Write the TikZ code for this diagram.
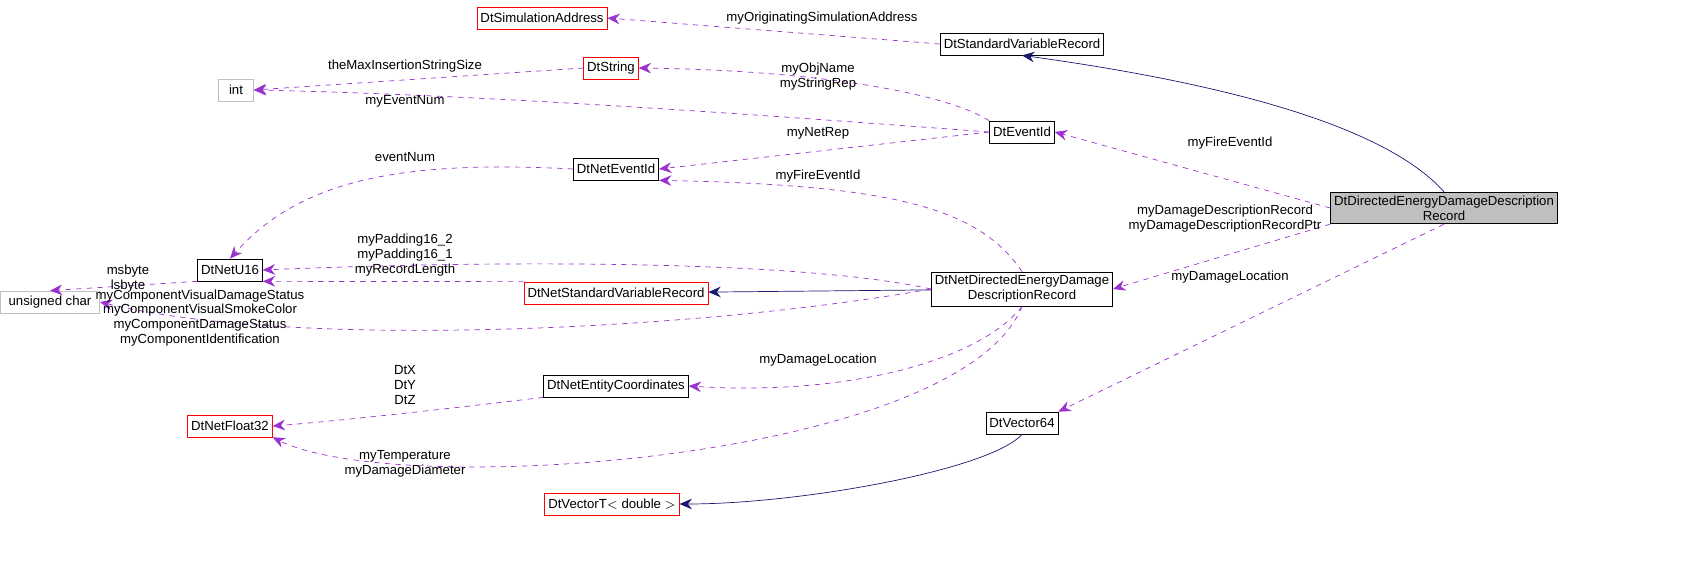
\documentclass[tikz,border=0pt]{standalone}
\usepackage{fontspec}
\setmainfont{Liberation Sans}
\usetikzlibrary{arrows.meta}
\definecolor{edgepurple}{HTML}{9A32CD}
\definecolor{edgenavy}{HTML}{191970}
\definecolor{boxgray}{HTML}{BFBFBF}
\tikzset{
  cls/.style={draw=black, fill=white, inner sep=2pt, minimum height=0.44cm, font=\fontsize{7.5}{8.5}\selectfont, align=center},
  clsred/.style={cls, draw=red},
  clsgray/.style={cls, draw=boxgray},
  clsmain/.style={cls, fill=boxgray},
  uses/.style={edgepurple, dashed, -{Stealth[length=7pt,width=6pt]}},
  inherits/.style={edgenavy, -{Stealth[length=7pt,width=6pt]}},
  lbl/.style={font=\fontsize{7.5}{8.5}\selectfont, align=center, inner sep=1pt}
}
\begin{document}
\begin{tikzpicture}[x=0.02cm, y=-0.02cm]
    \useasboundingbox (0,0) rectangle (1699,567);

    % Classes
    \node[clsred] (simaddr) at (542,18) {DtSimulationAddress};
    \node[cls] (stdvar) at (1022,44) {DtStandardVariableRecord};
    \node[clsred] (string) at (611,68) {DtString};
    \node[clsgray, minimum width=0.7cm] (int) at (236,90) {int};
    \node[cls] (eventid) at (1022,132) {DtEventId};
    \node[cls] (neteventid) at (616,169) {DtNetEventId};
    \node[clsmain] (main) at (1444,208) {DtDirectedEnergyDamageDescription\\Record};
    \node[cls] (netu16) at (230,270) {DtNetU16};
    \node[clsgray, minimum width=1.98cm] (uchar) at (50,302) {unsigned char};
    \node[clsred] (netstdvar) at (616,293) {DtNetStandardVariableRecord};
    \node[cls] (netmain) at (1022,289) {DtNetDirectedEnergyDamage\\DescriptionRecord};
    \node[cls] (netcoords) at (616,386) {DtNetEntityCoordinates};
    \node[clsred] (float32) at (230,426) {DtNetFloat32};
    \node[cls] (vec64) at (1022,423) {DtVector64};
    \node[clsred] (vect) at (612,504) {DtVectorT$<$ double $>$};

    % Inheritance
    \draw[inherits] (main.north) .. controls (1380,120) and (1200,80) .. (stdvar.south);
    \draw[inherits] (netmain) -- (netstdvar);
    \draw[inherits] (vec64.south) .. controls (990,470) and (800,504) .. (vect.east);

    % Usage
    \draw[uses] (stdvar.west) -- (simaddr.east);
    \draw[uses] (string.west) -- (int.east);
    \draw[uses] (eventid.west) .. controls (800,118) and (500,95) .. (int.east);
    \draw[uses] (eventid.north west) .. controls (940,90) and (800,70) .. (string.east);
    \draw[uses] (eventid.west) -- (neteventid.east);
    \draw[uses] (neteventid.west) .. controls (400,160) and (300,180) .. (netu16.north);
    \draw[uses] (main.west) -- (eventid.east);
    \draw[uses] (main.south west) -- (netmain.east);
    \draw[uses] (main.south) -- (vec64.north east);
    \draw[uses] (netmain.north) .. controls (980,210) and (900,185) .. (neteventid.south east);
    \draw[uses] (netmain.west) .. controls (800,260) and (500,260) .. (netu16.east);
    \draw[uses] (netstdvar.north west) -- (netu16.south east);
    \draw[uses] (netmain.west) .. controls (700,330) and (300,350) .. (uchar.east);
    \draw[uses] (netmain.south) .. controls (980,360) and (850,396) .. (netcoords.east);
    \draw[uses] (netcoords.south west) .. controls (480,405) and (350,420) .. (float32.east);
    \draw[uses] (netmain.south) .. controls (960,460) and (400,500) .. (float32.south east);
    \draw[uses] (netu16.south west) -- (uchar.north);

    % Labels
    \node[lbl] (l1) at (822,18) {myOriginatingSimulationAddress};
    \node[lbl] (l2) at (405,66) {theMaxInsertionStringSize};
    \node[lbl] (l3) at (405,101) {myEventNum};
    \node[lbl] (l4) at (818,77) {myObjName\\myStringRep};
    \node[lbl] (l5) at (818,133) {myNetRep};
    \node[lbl] (l6) at (405,157) {eventNum};
    \node[lbl] (l7) at (1230,143) {myFireEventId};
    \node[lbl] (l8) at (818,176) {myFireEventId};
    \node[lbl] (l9) at (1225,219) {myDamageDescriptionRecord\\myDamageDescriptionRecordPtr};
    \node[lbl] (l10) at (1230,277) {myDamageLocation};
    \node[lbl] (l11) at (405,248) {myPadding16\_2\\myPadding16\_1};
    \node[lbl] (l12) at (405,270) {myRecordLength};
    \node[lbl] (l13) at (200,318) {myComponentVisualDamageStatus\\myComponentVisualSmokeColor\\myComponentDamageStatus\\myComponentIdentification};
    \node[lbl] (l14) at (128,279) {msbyte\\lsbyte};
    \node[lbl] (l15) at (818,360) {myDamageLocation};
    \node[lbl] (l16) at (405,385) {DtX\\DtY\\DtZ};
    \node[lbl] (l17) at (405,464) {myTemperature\\myDamageDiameter};
\end{tikzpicture}
\end{document}
